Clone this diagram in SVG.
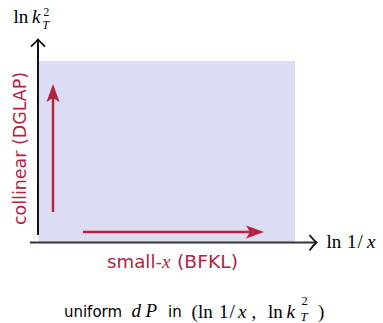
<svg xmlns="http://www.w3.org/2000/svg" width="383" height="323" viewBox="0 0 383 323">
<style>
.sans{font-family:"DejaVu Sans","Liberation Sans",sans-serif;}
.math{font-family:"Liberation Serif","DejaVu Serif",serif;}
.it{font-style:italic;}
.red{fill:#b5233f;}
.axis{fill:none;stroke-linecap:butt;}
.redline{stroke:#b5233f;stroke-width:2.4;fill:none;}
</style>
<rect width="383" height="323" fill="#ffffff"/>
<g id="region">
<rect x="38.5" y="61" width="256.5" height="181" fill="#dcdcf2"/>
</g>
<g id="connectors">
<g id="y-axis">
<line class="axis" x1="38" y1="235" x2="38" y2="40" stroke="#111111" stroke-width="2"/>
<path class="axis" d="M31,46.5 Q35.5,42.5 38,39.5 Q40.5,42.5 45,46.5" stroke="#111111" stroke-width="1.8"/>
</g>
<g id="x-axis">
<line class="axis" x1="30" y1="242.5" x2="316" y2="242.5" stroke="#333333" stroke-width="2"/>
<path class="axis" d="M309.5,235 Q313.5,240 316.5,242.5 Q313.5,245 309.5,250.5" stroke="#111111" stroke-width="1.8"/>
</g>
<g id="arrow-collinear">
<line class="redline" x1="53" y1="212" x2="53" y2="97"/>
<path class="red" d="M53,84 L59.5,102 L53,98 L46.5,102 Z"/>
</g>
<g id="arrow-smallx">
<line class="redline" x1="83" y1="232" x2="251" y2="232"/>
<path class="red" d="M264,232 L246,225.5 L250,232 L246,238.5 Z"/>
</g>
</g>
<g id="label-y">
<text class="math" font-size="19" y="22.5"><tspan x="13.5">ln</tspan><tspan class="it" x="32">k</tspan></text>
<text class="math" font-size="11.5" x="43.5" y="16">2</text>
<text class="math it" font-size="11.5" x="42.5" y="29">T</text>
</g>
<g id="label-x">
<text class="math" font-size="19" y="248"><tspan x="326.5">ln</tspan><tspan x="347">1</tspan><tspan x="357.5">/</tspan><tspan class="it" x="367">x</tspan></text>
</g>
<g id="label-collinear">
<text class="sans red" font-size="17" transform="translate(25.5,225) rotate(-90)" x="0" y="0" textLength="153" lengthAdjust="spacingAndGlyphs">collinear (DGLAP)</text>
</g>
<g id="label-smallx">
<text class="sans red" font-size="17" y="268"><tspan x="107" textLength="55" lengthAdjust="spacingAndGlyphs">small-</tspan><tspan class="math it" x="162" font-size="19">x</tspan><tspan x="177" textLength="61" lengthAdjust="spacingAndGlyphs">(BFKL)</tspan></text>
</g>
<g id="caption">
<text class="sans" font-size="15" y="317"><tspan x="64" textLength="58" lengthAdjust="spacingAndGlyphs">uniform</tspan><tspan x="168">in</tspan></text>
<text class="math it" font-size="19" y="317"><tspan x="131.5">d</tspan><tspan x="145.5">P</tspan></text>
<text class="math" font-size="19" y="317.5"><tspan x="191.5">(</tspan><tspan x="198">ln</tspan><tspan x="219">1</tspan><tspan x="229.5">/</tspan><tspan class="it" x="238">x</tspan><tspan x="251.5">,</tspan><tspan x="268">ln</tspan><tspan class="it" x="286.5">k</tspan><tspan x="318">)</tspan></text>
<text class="math" font-size="12.5" x="301.5" y="304.5">2</text>
<text class="math it" font-size="12.5" x="300.5" y="321">T</text>
</g>
</svg>
